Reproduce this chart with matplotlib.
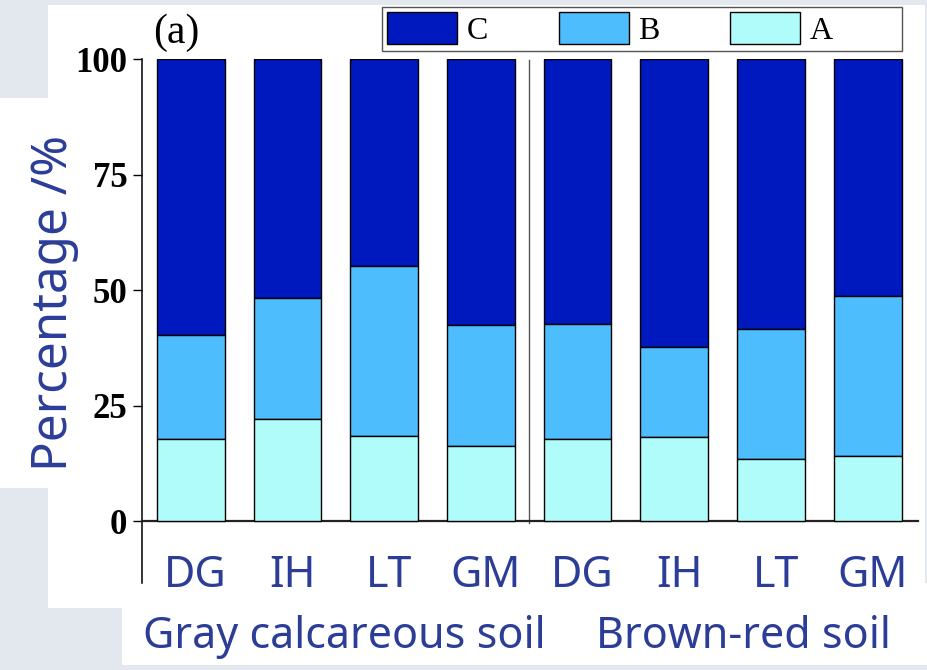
import matplotlib
matplotlib.use("Agg")
import matplotlib.pyplot as plt
from matplotlib.patches import Rectangle
import numpy as np

# Fraction (%) of each size class per site
sites = ["DG", "IH", "LT", "GM", "DG", "IH", "LT", "GM"]
soils = ["Gray calcareous soil", "Brown-red soil"]
frac_a = [17.7, 22.0, 18.4, 16.3, 17.8, 18.2, 13.4, 14.0]
frac_b = [22.6, 26.3, 36.9, 26.1, 24.9, 19.5, 28.2, 34.8]
frac_c = [59.7, 51.7, 44.7, 57.6, 57.3, 62.3, 58.4, 51.2]
yticks = [0, 25, 50, 75, 100]

col_a = "#b0fcfa"
col_b = "#4dbdfd"
col_c = "#0019be"
txt_blue = "#2b3d97"
bg_gray = "#e3e7ee"

W, H = 928, 670
fig = plt.figure(figsize=(W / 100, H / 100), dpi=100, facecolor=bg_gray)


def px_rect(x0, y0, x1, y1, face="white", edge="none", lw=0.0, z=-5):
    r = Rectangle((x0 / W, 1 - y1 / H), (x1 - x0) / W, (y1 - y0) / H,
                  transform=fig.transFigure, facecolor=face,
                  edgecolor=edge, linewidth=lw, zorder=z)
    fig.patches.append(r)
    return r


# white panels behind the plot and the labels
px_rect(48, 5, 925, 608)
px_rect(0, 98, 92, 488)
px_rect(122, 583, 927, 665)

ax = fig.add_axes([142 / W, 1 - 583 / H, (918 - 142) / W, (583 - 59) / H])
ax.set_facecolor("none")
ax.set_zorder(2)

x = np.arange(len(sites))
a = np.array(frac_a)
b = np.array(frac_b)
c = np.array(frac_c)
kw = dict(width=0.70, edgecolor="black", linewidth=1.0, zorder=3)
hc = ax.bar(x, c, bottom=a + b, color=col_c, label="C", **kw)
hb = ax.bar(x, b, bottom=a, color=col_b, label="B", **kw)
ha = ax.bar(x, a, color=col_a, label="A", **kw)

ax.set_xlim(-0.504, 7.52)
ax.set_ylim(-13.4, 100)

# separator between the two soil groups
ax.plot([3.5, 3.5], [-0.4, 99.7], color="#555555", lw=1.0, zorder=2)

for s in ("top", "right"):
    ax.spines[s].set_visible(False)
ax.spines["bottom"].set_position(("data", 0))
ax.spines["bottom"].set_linewidth(1.6)
ax.spines["bottom"].set_color("#222222")
ax.spines["left"].set_linewidth(1.1)

ax.set_yticks(yticks)
ax.set_yticklabels([str(v) for v in yticks], fontfamily="Liberation Serif",
                   fontweight="bold", fontsize=25)
ax.tick_params(axis="y", direction="out", length=6.5, width=1.0, pad=4)

ax.set_xticks(x + 0.05)
ax.set_xticklabels(sites, fontfamily="Noto Sans", fontsize=31, color=txt_blue)
ax.tick_params(axis="x", length=0, pad=24)

# group labels
for gx, name in zip([344, 743], soils):
    fig.text(gx / W, 1 - 637 / H, name, ha="center", va="center",
             fontfamily="Noto Sans", fontsize=31, color=txt_blue)

fig.text(54 / W, 1 - 303 / H, "Percentage /%", rotation=90, ha="center", va="center",
         fontfamily="Noto Sans", fontsize=35.5, color=txt_blue)

fig.text(176 / W, 1 - 33 / H, "(a)", ha="center", va="center",
         fontfamily="Liberation Serif", fontsize=30)

# legend: frame box drawn separately so it can extend past the last entry
px_rect(382, 7, 902, 51, face="white", edge="#555555", lw=1.0, z=1)
leg = ax.legend(handles=[hc, hb, ha], labels=["C", "B", "A"], ncol=3,
                loc="upper left", bbox_to_anchor=(387 / W, 1 - 12 / H),
                bbox_transform=fig.transFigure, frameon=False,
                prop={"family": "Liberation Serif", "size": 23},
                handlelength=2.2, handleheight=1.15, handletextpad=0.3,
                columnspacing=2.2, borderpad=0.0, borderaxespad=0)

fig.savefig("out.png", dpi=100, facecolor=bg_gray)
